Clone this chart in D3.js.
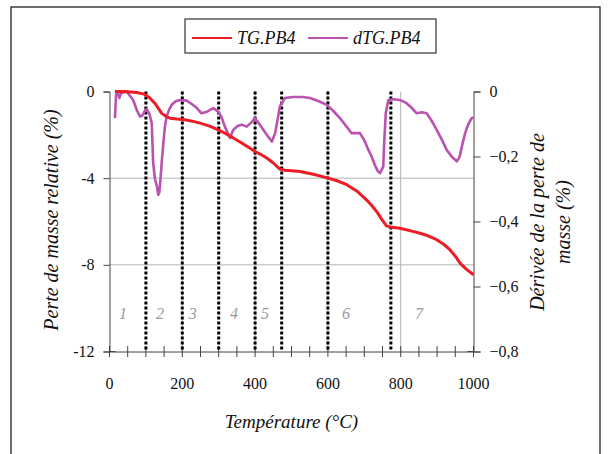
<!DOCTYPE html>
<html><head><meta charset="utf-8">
<script src="https://cdn.jsdelivr.net/npm/d3@7"></script>
<style>body{margin:0;background:#fff}svg{display:block}</style>
</head><body>
<svg id="c" width="612" height="454"></svg>
<script>
// ---- data ----
const tgT = [15,40,75,95,111,125,143,155,166,185,207,230,249,275,299,320,340,370,400,415,432,450,468,480,500,523,560,601,625,652,680,706,720,734,748,761,775,798,825,853,875,899,918,935,950,963,980,1000];
const tgV = [0,0,-0.05,-0.12,-0.3,-0.55,-1.0,-1.15,-1.23,-1.27,-1.3,-1.38,-1.46,-1.6,-1.77,-1.95,-2.15,-2.45,-2.77,-2.9,-3.07,-3.3,-3.58,-3.63,-3.66,-3.69,-3.82,-4.0,-4.12,-4.3,-4.6,-5.0,-5.25,-5.54,-5.9,-6.2,-6.27,-6.31,-6.42,-6.54,-6.66,-6.84,-7.05,-7.3,-7.6,-7.92,-8.2,-8.46];
const dtgT = [15,18,22,27,32,47,65,76,84,90,97,102,110,116,120,125,130,134,137,140,144,148,152,157,164,171,182,194,212,228,240,253,268,285,299,308,317,331,340,352,363,377,390,400,413,432,446,455,462,468,482,505,530,551,575,597,615,633,650,665,688,700,711,720,729,737,743,752,755,759,766,780,798,816,830,844,858,871,885,899,913,926,940,954,960,963,970,977,986,995,1000];
const dtgV = [-0.082,-0.01,0,-0.02,-0.005,0,-0.026,-0.06,-0.077,-0.074,-0.06,-0.054,-0.07,-0.097,-0.22,-0.27,-0.29,-0.318,-0.31,-0.27,-0.21,-0.159,-0.11,-0.077,-0.055,-0.041,-0.03,-0.026,-0.028,-0.04,-0.051,-0.067,-0.062,-0.051,-0.062,-0.08,-0.108,-0.143,-0.118,-0.106,-0.102,-0.108,-0.095,-0.082,-0.102,-0.133,-0.154,-0.128,-0.085,-0.046,-0.02,-0.017,-0.017,-0.02,-0.03,-0.041,-0.06,-0.082,-0.106,-0.128,-0.128,-0.15,-0.179,-0.2,-0.226,-0.245,-0.251,-0.231,-0.15,-0.067,-0.026,-0.024,-0.026,-0.036,-0.05,-0.067,-0.064,-0.067,-0.09,-0.118,-0.148,-0.179,-0.2,-0.215,-0.205,-0.195,-0.16,-0.128,-0.1,-0.082,-0.08];
const stageLines = [100,200,300,400,473,600,773];
const zoneNames = ["1","2","3","4","5","6","7"];
const zoneT = [37,139,229,342,427,650,850];
const xTicks = [0,200,400,600,800,1000];
const yLeftTicks = [0,-4,-8,-12];
const yRightTicks = [0,-0.2,-0.4,-0.6,-0.8];
const seriesNames = ["TG.PB4","dTG.PB4"];
const colors = ["#ee1c25","#b952b0"];

// ---- layout ----
const svg = d3.select("#c");
const x = d3.scaleLinear().domain([0,1000]).range([109.5,473.5]);
const yL = d3.scaleLinear().domain([-12,0]).range([351.5,91.5]);
const yR = d3.scaleLinear().domain([-0.8,0]).range([351.5,91.5]);
const serif = "'Liberation Serif','Times New Roman',serif";

// outer frame
svg.append("rect").attr("x",11).attr("y",7).attr("width",589).attr("height",470)
  .attr("fill","none").attr("stroke","#222").attr("stroke-width",1.3);

// gridlines
svg.append("g").selectAll("line").data([-4,-8]).join("line")
  .attr("x1",x(0)).attr("x2",x(1000)).attr("y1",d=>yL(d)).attr("y2",d=>yL(d))
  .attr("stroke","#b4b4b4").attr("stroke-width",1);
svg.append("g").selectAll("line").data([200,400,600,800]).join("line")
  .attr("x1",d=>x(d)).attr("x2",d=>x(d)).attr("y1",yL(0)).attr("y2",yL(-12))
  .attr("stroke","#b4b4b4").attr("stroke-width",1);

// axes
const gx = svg.append("g").attr("transform",`translate(0,${yL(-12)})`)
  .call(d3.axisBottom(x).tickValues(d3.range(0,1001,50)).tickSize(0).tickFormat(""));
gx.select(".domain").attr("stroke","#444");
gx.selectAll(".tick line").remove();
svg.append("g").selectAll("line").data(d3.range(0,1001,50)).join("line")
  .attr("x1",d=>x(d)).attr("x2",d=>x(d)).attr("y1",yL(-12)-5.5).attr("y2",yL(-12)+5.5)
  .attr("stroke","#444");
svg.append("g").selectAll("text").data(xTicks).join("text")
  .attr("x",d=>x(d)).attr("y",yL(-12)+37).attr("text-anchor","middle")
  .attr("font-family",serif).attr("font-size",16).attr("fill","#111").text(d=>d);

const gl = svg.append("g").attr("transform",`translate(${x(0)},0)`)
  .call(d3.axisLeft(yL).tickValues(yLeftTicks).tickSize(6).tickPadding(9).tickFormat(d=>d));
gl.select(".domain").attr("stroke","#444");
gl.selectAll(".tick line").attr("stroke","#444");
gl.selectAll(".tick text").attr("font-family",serif).attr("font-size",16).attr("fill","#111");
svg.append("line").attr("x1",x(0)).attr("x2",x(0)+6).attr("y1",yL(-12)).attr("y2",yL(-12)).attr("stroke","#444");

const gr = svg.append("g").attr("transform",`translate(${x(1000)},0)`)
  .call(d3.axisRight(yR).tickValues(yRightTicks).tickSize(7).tickPadding(9)
    .tickFormat(d=> d===0 ? "0" : d3.format(".1f")(d).replace(".",",")));
gr.select(".domain").attr("stroke","#444");
gr.selectAll(".tick line").attr("stroke","#444");
gr.selectAll(".tick text").attr("font-family",serif).attr("font-size",16).attr("fill","#111");
svg.append("line").attr("x1",x(1000)-6).attr("x2",x(1000)).attr("y1",yR(-0.8)).attr("y2",yR(-0.8)).attr("stroke","#444");

// stage dotted lines
svg.append("g").selectAll("line").data(stageLines).join("line")
  .attr("x1",d=>x(d)).attr("x2",d=>x(d)).attr("y1",yL(0)).attr("y2",yL(-12))
  .attr("stroke","#000").attr("stroke-width",3).attr("stroke-dasharray","3,2");

// zone labels
svg.append("g").selectAll("text").data(zoneNames).join("text")
  .attr("x",(d,i)=>x(zoneT[i])).attr("y",yL(-10.2)+6).attr("text-anchor","middle")
  .attr("font-family",serif).attr("font-style","italic").attr("font-size",16).attr("fill","#999")
  .text(d=>d);

// curves
const dtgData = dtgT.map((t,i)=>[t,dtgV[i]]);
const tgData = tgT.map((t,i)=>[t,tgV[i]]);
svg.append("path").datum(dtgData)
  .attr("d",d3.line().x(d=>x(d[0])).y(d=>yR(d[1])))
  .attr("fill","none").attr("stroke",colors[1]).attr("stroke-width",2.6).attr("stroke-linejoin","round");
svg.append("path").datum(tgData)
  .attr("d",d3.line().x(d=>x(d[0])).y(d=>yL(d[1])))
  .attr("fill","none").attr("stroke",colors[0]).attr("stroke-width",3).attr("stroke-linejoin","round");

// axis titles
svg.append("text").attr("x",x(500)).attr("y",428).attr("text-anchor","middle")
  .attr("font-family",serif).attr("font-style","italic").attr("font-size",19).attr("fill","#111")
  .text("Température (°C)");
svg.append("text").attr("transform","translate(58,220) rotate(-90)").attr("text-anchor","middle")
  .attr("font-family",serif).attr("font-style","italic").attr("font-size",20).attr("fill","#111")
  .text("Perte de masse relative (%)");
const rt = svg.append("text").attr("transform","translate(537,222) rotate(-90)").attr("text-anchor","middle")
  .attr("font-family",serif).attr("font-style","italic").attr("font-size",20).attr("fill","#111");
rt.append("tspan").attr("x",0).attr("dy","0.35em").text("Dérivée de la perte de");
rt.append("tspan").attr("x",0).attr("dy","1.3em").text("masse (%)");

// legend
const lg = svg.append("g");
lg.append("rect").attr("x",185).attr("y",19).attr("width",251).attr("height",34)
  .attr("fill","#fff").attr("stroke","#333").attr("stroke-width",1.2);
const legX = [192,308];
seriesNames.forEach((n,i)=>{
  lg.append("line").attr("x1",legX[i]).attr("x2",legX[i]+40).attr("y1",38).attr("y2",38)
    .attr("stroke",colors[i]).attr("stroke-width",2);
  lg.append("text").attr("x",legX[i]+45).attr("y",44)
    .attr("font-family",serif).attr("font-style","italic").attr("font-size",18).attr("fill","#111").text(n);
});
</script>
</body></html>
